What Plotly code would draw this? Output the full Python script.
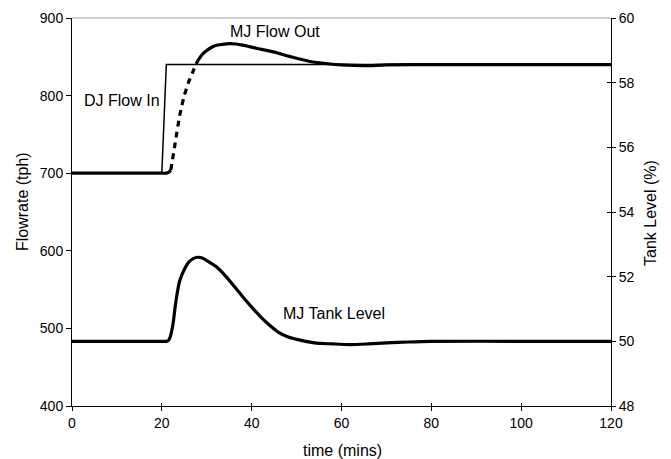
import plotly.graph_objects as go

# ---- data ----
time_in = [0, 20, 21, 120]
dj_flow_in = [700, 700, 840, 840]

time_out = [0, 10, 20, 21, 21.5, 22, 23, 24, 25, 26, 27, 28, 29, 30, 31, 32, 33.5, 35, 36.5, 38, 41, 45, 48.4, 53, 57, 60, 65, 70, 80, 100, 120]
mj_flow_out = [700, 700, 700, 700, 701, 704, 740, 775, 800, 818, 832, 845, 853, 858, 862, 864.5, 866, 867, 866.5, 865, 861,
               856, 850.5, 844, 841, 839.5, 838.5, 839.5, 840, 840, 840]

time_lvl = [0, 10, 20, 20.5, 21, 21.5, 22, 22.5, 23, 23.5, 24, 25, 26, 27, 28, 29, 30, 32, 34, 36, 38, 40, 42, 44, 46, 48, 50,
            52, 54, 58, 62, 66, 70, 75, 80, 100, 120]
tank_level = [50, 50, 50, 50, 50, 50.03, 50.2, 50.55, 51.1, 51.55, 51.88, 52.22, 52.45, 52.56, 52.6, 52.58, 52.5, 52.32, 52.05,
              51.72, 51.38, 51.06, 50.76, 50.5, 50.28, 50.14, 50.06, 50.0, 49.95, 49.92, 49.9, 49.92, 49.95,
              49.98, 50.0, 50.0, 50.0]

x_ticks = [0, 20, 40, 60, 80, 100, 120]
y_ticks = [400, 500, 600, 700, 800, 900]
y2_ticks = [48, 50, 52, 54, 56, 58, 60]

dash_start, dash_end = 22, 28

FONT = "Liberation Sans, Arial, sans-serif"

fig = go.Figure()

fig.add_trace(go.Scatter(x=time_in, y=dj_flow_in, mode="lines",
                         line=dict(color="black", width=1.5), showlegend=False))

i0 = time_out.index(dash_start)
i1 = time_out.index(dash_end)
fig.add_trace(go.Scatter(x=time_out[:i0 + 1], y=mj_flow_out[:i0 + 1], mode="lines",
                         line=dict(color="black", width=3.2, shape="spline", smoothing=0.6), showlegend=False))
fig.add_trace(go.Scatter(x=time_out[i0:i1 + 1], y=mj_flow_out[i0:i1 + 1], mode="lines",
                         line=dict(color="black", width=3.2, dash="6px,5px", shape="spline", smoothing=0.6),
                         showlegend=False))
fig.add_trace(go.Scatter(x=time_out[i1:], y=mj_flow_out[i1:], mode="lines",
                         line=dict(color="black", width=3.2, shape="spline", smoothing=0.8), showlegend=False))

fig.add_trace(go.Scatter(x=time_lvl, y=tank_level, mode="lines", yaxis="y2",
                         line=dict(color="black", width=3.2, shape="spline", smoothing=0.8), showlegend=False))

tickfont = dict(family=FONT, size=14, color="black")
common = dict(showgrid=False, zeroline=False, automargin=False)

# the page body adds an 8px offset; figure is sized so the plot area lands at x 72..611, y 18..406
fig.update_layout(
    width=663, height=451,
    margin=dict(l=64, r=60, t=10, b=53),
    paper_bgcolor="white", plot_bgcolor="white",
    font=dict(family=FONT, size=16, color="black"),
    xaxis=dict(range=[0, 120], tickvals=x_ticks, showline=True, linecolor="black", linewidth=1,
               ticks="outside", ticklen=4, tickcolor="black", tickfont=tickfont, **common),
    xaxis2=dict(range=[0, 120], tickvals=x_ticks, overlaying="x", side="bottom", showline=False,
                ticks="inside", ticklen=3, tickcolor="black", showticklabels=False, **common),
    yaxis=dict(range=[400, 900], tickvals=y_ticks, showline=True, linecolor="black", linewidth=1,
               ticks="outside", ticklen=5, tickcolor="black", tickfont=tickfont, **common),
    yaxis2=dict(range=[48, 60], tickvals=y2_ticks, overlaying="y", side="right",
                showline=True, linecolor="black", linewidth=1,
                ticks="outside", ticklen=4, tickcolor="black", tickfont=tickfont, **common),
    yaxis3=dict(range=[48, 60], tickvals=y2_ticks, overlaying="y", side="right", showline=False,
                ticks="inside", ticklen=4, tickcolor="black", showticklabels=False, **common),
    shapes=[dict(type="line", xref="paper", yref="paper", x0=0, x1=1, y0=1, y1=1,
                 line=dict(color="#a0a0a0", width=1))],
)

# pixel helpers (page coords; plot area spans x 72..611, y 18..406)
def px_x(px):
    return (px - 72) / 539

def px_y(py):
    return (406 - py) / 388

def data_x(px):
    return (px - 72) / 539 * 120

def data_y(py):
    return 900 - (py - 18) / 388 * 500

ann_common = dict(showarrow=False, xanchor="center", yanchor="middle")
annotations = [
    dict(text="DJ Flow In", x=data_x(122), y=data_y(100), xref="x", yref="y", **ann_common),
    dict(text="MJ Flow Out", x=data_x(275), y=data_y(31), xref="x", yref="y", **ann_common),
    dict(text="MJ Tank Level", x=data_x(334), y=data_y(313), xref="x", yref="y", **ann_common),
    dict(text="Flowrate (tph)", x=px_x(22), y=px_y(202), xref="paper", yref="paper",
         textangle=-90, **ann_common),
    dict(text="Tank Level (%)", x=px_x(650), y=px_y(213), xref="paper", yref="paper",
         textangle=-90, **ann_common),
    dict(text="time (mins)", x=px_x(342), y=px_y(450), xref="paper", yref="paper", **ann_common),
]
fig.update_layout(annotations=annotations)

# anchor empty overlay axes so they render
fig.add_trace(go.Scatter(x=[None], y=[None], xaxis="x2", yaxis="y3", showlegend=False, hoverinfo="skip"))

fig.write_html("out.html")
